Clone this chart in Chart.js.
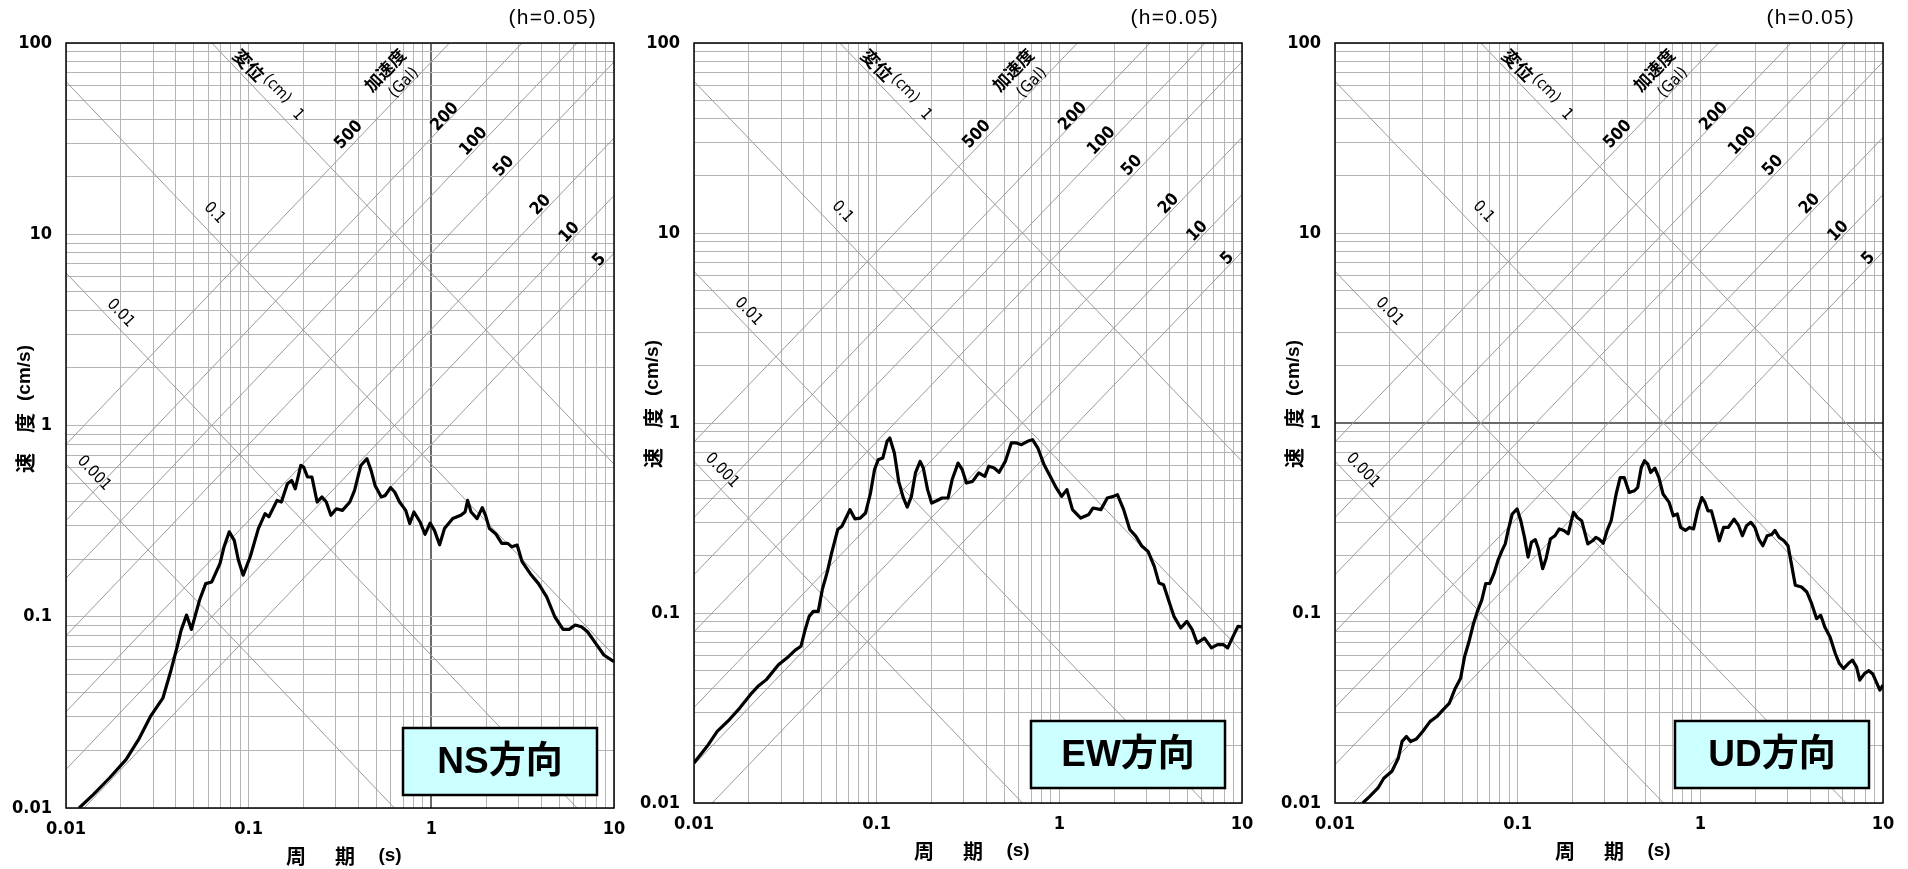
<!DOCTYPE html>
<html>
<head>
<meta charset="utf-8">
<script src="https://cdn.jsdelivr.net/npm/chart.js@4/dist/chart.umd.min.js"></script>
<style>
  html, body { margin: 0; padding: 0; background: #fff; }
  body { width: 1908px; height: 869px; position: relative; overflow: hidden; }
  canvas { position: absolute; top: 0; }
</style>
</head>
<body>
<canvas id="ns" width="630" height="869" style="left:0px"></canvas>
<canvas id="ew" width="630" height="869" style="left:628px"></canvas>
<canvas id="ud" width="630" height="869" style="left:1269px"></canvas>
<script>
// velocity response spectra (h=0.05), period in s, velocity in cm/s
const nsPeriod = [0.0118,0.0141,0.0173,0.0213,0.0249,0.0290,0.0339,0.0376,0.0406,0.0427,0.0457,0.0486,0.0538,0.0582,0.0628,0.0697,0.0733,0.0783,0.0834,0.0878,0.0933,0.102,0.113,0.123,0.129,0.143,0.151,0.163,0.172,0.180,0.193,0.200,0.210,0.222,0.237,0.252,0.266,0.282,0.302,0.326,0.358,0.380,0.411,0.444,0.468,0.492,0.532,0.560,0.598,0.630,0.670,0.724,0.762,0.803,0.868,0.923,0.986,1.04,1.11,1.18,1.31,1.45,1.53,1.58,1.65,1.78,1.90,1.98,2.08,2.25,2.43,2.62,2.76,2.95,3.14,3.48,3.86,4.28,4.74,5.26,5.68,6.13,6.63,7.16,7.94,8.80,10];
const nsVelocity = [0.0100,0.01175,0.01435,0.0179,0.0227,0.0301,0.0375,0.0527,0.0697,0.0851,0.102,0.0859,0.122,0.149,0.152,0.190,0.232,0.278,0.251,0.198,0.165,0.206,0.289,0.346,0.333,0.406,0.398,0.496,0.516,0.467,0.618,0.606,0.538,0.538,0.398,0.423,0.398,0.339,0.367,0.360,0.398,0.458,0.618,0.670,0.582,0.486,0.423,0.431,0.473,0.449,0.398,0.360,0.307,0.353,0.313,0.270,0.309,0.283,0.238,0.289,0.326,0.339,0.353,0.406,0.353,0.326,0.372,0.339,0.289,0.272,0.242,0.242,0.232,0.237,0.194,0.168,0.149,0.127,0.100,0.0859,0.0859,0.0905,0.0887,0.0835,0.0726,0.0631,0.0582];

const ewPeriod = [0.01,0.0118,0.0134,0.01563,0.0178,0.0207,0.0224,0.0249,0.0290,0.0330,0.0357,0.0385,0.0406,0.0427,0.0450,0.0479,0.0504,0.0538,0.0567,0.0612,0.0645,0.0679,0.0714,0.0760,0.0813,0.0869,0.0925,0.0973,0.102,0.108,0.114,0.118,0.125,0.132,0.140,0.147,0.155,0.163,0.173,0.180,0.190,0.200,0.213,0.228,0.246,0.259,0.279,0.294,0.310,0.335,0.362,0.391,0.411,0.440,0.468,0.506,0.546,0.583,0.621,0.670,0.713,0.763,0.824,0.891,0.962,1.03,1.10,1.18,1.31,1.45,1.53,1.69,1.83,1.98,2.08,2.25,2.43,2.62,2.83,3.06,3.31,3.51,3.72,3.96,4.24,4.62,4.99,5.34,5.68,6.23,6.80,7.35,7.93,8.35,9.03,9.51,10];
const ewVelocity = [0.01625,0.01987,0.0238,0.0275,0.0316,0.0379,0.0411,0.0446,0.0534,0.0591,0.0636,0.0668,0.0817,0.0960,0.102,0.102,0.133,0.166,0.207,0.275,0.286,0.316,0.350,0.313,0.316,0.336,0.428,0.568,0.641,0.654,0.801,0.834,0.695,0.493,0.403,0.361,0.411,0.546,0.628,0.580,0.446,0.379,0.390,0.403,0.403,0.504,0.615,0.568,0.483,0.493,0.546,0.524,0.592,0.580,0.550,0.628,0.785,0.785,0.769,0.801,0.817,0.738,0.604,0.524,0.455,0.411,0.446,0.350,0.316,0.330,0.357,0.350,0.403,0.411,0.420,0.350,0.275,0.254,0.225,0.211,0.176,0.144,0.141,0.117,0.0960,0.0834,0.0904,0.0817,0.0695,0.0738,0.0655,0.0681,0.0681,0.0655,0.0769,0.0851,0.0844];

const udPeriod = [0.0142,0.0155,0.0172,0.0185,0.0205,0.0222,0.0233,0.0246,0.0259,0.0279,0.0302,0.0331,0.0361,0.0390,0.0422,0.0455,0.0487,0.0512,0.0544,0.0573,0.0604,0.0636,0.0669,0.0704,0.0741,0.0780,0.0821,0.0855,0.0887,0.0934,0.0993,0.104,0.109,0.114,0.119,0.125,0.130,0.137,0.143,0.151,0.160,0.169,0.179,0.189,0.202,0.212,0.224,0.242,0.257,0.268,0.279,0.294,0.309,0.325,0.346,0.364,0.383,0.408,0.436,0.454,0.475,0.495,0.516,0.535,0.564,0.593,0.625,0.675,0.711,0.748,0.780,0.829,0.872,0.918,0.966,1.02,1.06,1.10,1.15,1.21,1.27,1.34,1.42,1.53,1.62,1.70,1.79,1.89,1.99,2.09,2.20,2.32,2.46,2.56,2.70,2.87,3.02,3.15,3.31,3.58,3.83,4.07,4.33,4.56,4.80,5.13,5.48,5.77,6.08,6.46,6.80,7.16,7.46,7.94,8.36,8.80,9.26,9.61,10];
const udVelocity = [0.0100,0.01084,0.0120,0.0135,0.0147,0.0172,0.0211,0.0224,0.0211,0.0217,0.0238,0.0268,0.0285,0.0309,0.0334,0.0401,0.0453,0.0588,0.0719,0.0879,0.103,0.117,0.143,0.143,0.161,0.189,0.213,0.231,0.272,0.332,0.353,0.306,0.250,0.197,0.236,0.243,0.217,0.171,0.193,0.245,0.255,0.277,0.272,0.261,0.339,0.318,0.306,0.231,0.240,0.250,0.245,0.233,0.272,0.306,0.423,0.516,0.516,0.431,0.440,0.458,0.583,0.633,0.607,0.549,0.578,0.516,0.423,0.382,0.325,0.332,0.282,0.272,0.282,0.277,0.345,0.405,0.382,0.345,0.345,0.288,0.240,0.282,0.282,0.312,0.288,0.255,0.288,0.300,0.282,0.245,0.226,0.255,0.259,0.272,0.250,0.240,0.226,0.182,0.140,0.137,0.129,0.112,0.0934,0.0972,0.0845,0.0748,0.0612,0.0542,0.0510,0.0542,0.0565,0.0521,0.0444,0.0481,0.0497,0.0477,0.0426,0.0393,0.0418];

// axes
const xTickValues = [0.01,0.02,0.03,0.04,0.05,0.06,0.07,0.08,0.09,0.1,0.2,0.3,0.4,0.5,0.6,0.7,0.8,0.9,1,2,3,4,5,6,7,8,9,10];
const yTickValues = [0.01,0.02,0.03,0.04,0.05,0.06,0.07,0.08,0.09,0.1,0.2,0.3,0.4,0.5,0.6,0.7,0.8,0.9,1,2,3,4,5,6,7,8,9,10,20,30,40,50,60,70,80,90,100];
const xTickLabels = ['0.01', '0.1', '1', '10'];
const yTickLabels = ['0.01', '0.1', '1', '10', '100'];

// tripartite guide lines: displacement (cm) and acceleration (Gal)
const dispLevels = [0.001, 0.01, 0.1, 1];
const dispLabels = ['0.001', '0.01', '0.1', '1'];
const accLevels = [5, 10, 20, 50, 100, 200, 500];
const accLabels = ['5', '10', '20', '50', '100', '200', '500'];

// where the guide labels sit, as (period, velocity)
const dispLabelAt = [[0.01422, 0.562], [0.01987, 3.86], [0.0649, 12.9], [0.186, 42.0]];
const accLabelAt = [[8.32, 7.33], [5.71, 10.2], [3.98, 14.2], [2.50, 22.6], [1.706, 30.5], [1.188, 41.0], [0.354, 33.0]];

const TWO_PI = 2 * Math.PI;
const narrow = '"Liberation Sans Narrow","DejaVu Sans Condensed","Liberation Sans",sans-serif';
const jp = '"Liberation Sans","Noto Sans CJK JP",sans-serif';
const jpBold = '"Noto Sans CJK JP","Liberation Sans",sans-serif';

function labelFor(v, labels) {
  const hit = labels.find(l => Math.abs(Math.log10(+l) - Math.log10(v)) < 1e-6);
  return hit || '';
}

/**
 * Draws frame, guide labels, axis titles, h label and the direction box
 */
const overlay = {
  id: 'overlay',
  afterDatasetsDraw(chart, args, o) {
    const {ctx, chartArea: a, scales: {x, y}} = chart;
    ctx.save();
    ctx.strokeStyle = '#000';
    ctx.lineWidth = 1.5;
    ctx.strokeRect(a.left, a.top, a.right - a.left, a.bottom - a.top);

    const ang = Math.atan2(y.getPixelForValue(1) - y.getPixelForValue(10), x.getPixelForValue(10) - x.getPixelForValue(1));
    ctx.fillStyle = '#000';
    ctx.textAlign = 'center';
    ctx.textBaseline = 'middle';
    const put = (text, t, v, rot, font) => {
      ctx.save();
      ctx.translate(x.getPixelForValue(t), y.getPixelForValue(v));
      ctx.rotate(rot);
      ctx.font = font;
      ctx.fillText(text, 0, 0);
      ctx.restore();
    };
    dispLabels.forEach((s, i) => put(s, dispLabelAt[i][0], dispLabelAt[i][1], ang, '16px ' + narrow));
    accLabels.forEach((s, i) => put(s, accLabelAt[i][0], accLabelAt[i][1], -ang, 'bold 17px ' + narrow));
    put('変位', 0.1004, 76.7, ang, 'bold 18px ' + jpBold);
    put('(cm)', 0.1430, 57.5, ang, '16px ' + narrow);
    put('加速度', 0.5576, 72.2, -ang, 'bold 17px ' + jpBold);
    put('(Gal)', 0.7085, 61.8, -ang, '16px ' + narrow);

    // damping note
    ctx.textAlign = 'right';
    ctx.font = '21px "Liberation Sans","Noto Sans CJK JP",sans-serif';
    ctx.letterSpacing = '1.2px';
    ctx.fillText('(h=0.05)', a.right - o.hRight, 18);
    ctx.letterSpacing = '0px';

    // axis titles
    ctx.textAlign = 'center';
    ctx.font = 'bold 20px ' + jpBold;
    const ty = a.bottom + 48;
    ctx.fillText('周', a.left + 230, ty);
    ctx.fillText('期', a.left + 279, ty);
    ctx.font = 'bold 19px ' + jp;
    ctx.fillText('(s)', a.left + 324, ty);

    ctx.save();
    ctx.translate(a.left - 41, a.bottom);
    ctx.rotate(-Math.PI / 2);
    ctx.font = 'bold 20px ' + jpBold;
    ctx.fillText('速', 345, 0);
    ctx.fillText('度', 385, 0);
    ctx.font = 'bold 19px ' + jp;
    ctx.fillText('(cm/s)', 435, 0);
    ctx.restore();

    // direction box
    const bx = a.left + o.boxLeft, by = a.bottom - o.boxUp, bw = 194, bh = 67;
    ctx.fillStyle = '#ccffff';
    ctx.fillRect(bx, by, bw, bh);
    ctx.lineWidth = 2.5;
    ctx.strokeRect(bx, by, bw, bh);
    ctx.fillStyle = '#000';
    ctx.font = 'bold 37px ' + jp;
    ctx.fillText(o.label, bx + bw / 2, by + bh / 2 + 1);
    ctx.restore();
  }
};

function guideSets() {
  const sets = [];
  const guide = pts => ({data: pts, borderColor: '#9a9a9a', borderWidth: 1, pointRadius: 0, tension: 0, fill: false});
  dispLevels.forEach(d => sets.push(guide([{x: 0.01, y: TWO_PI * d / 0.01}, {x: 10, y: TWO_PI * d / 10}])));
  accLevels.forEach(g => sets.push(guide([{x: 0.01, y: g * 0.01 / TWO_PI}, {x: 10, y: g * 10 / TWO_PI}])));
  return sets;
}

/**
 * @param {string} id canvas id
 * @param {Array} period periods (s)
 * @param {Array} velocity velocities (cm/s)
 * @param {object} o layout of the panel
 */
function spectrumChart(id, period, velocity, o) {
  const tickFont = {family: narrow, size: 18, weight: 'bold'};
  const gridColor = dark => c => (dark && c.tick && Math.abs(c.tick.value - 1) < 1e-9) ? '#6a6a6a' : '#b4b4b4';
  const gridWidth = dark => c => (dark && c.tick && Math.abs(c.tick.value - 1) < 1e-9) ? 2 : 1;
  return new Chart(document.getElementById(id), {
    type: 'line',
    data: {
      datasets: [
        {
          data: period.map((t, i) => ({x: t, y: velocity[i]})),
          borderColor: '#000',
          borderWidth: 3.2,
          pointRadius: 0,
          tension: 0,
          fill: false,
          borderJoinStyle: 'round'
        },
        ...guideSets()
      ]
    },
    options: {
      responsive: false,
      animation: false,
      devicePixelRatio: 1,
      layout: {padding: {left: 0, right: 16, top: 43, bottom: 869 - o.bottom - 40}},
      plugins: {legend: {display: false}, tooltip: {enabled: false}, overlay: o},
      scales: {
        x: {
          type: 'logarithmic', min: 0.01, max: 10,
          afterBuildTicks: s => { s.ticks = xTickValues.map(v => ({value: v})); },
          afterFit: s => { s.height = 40; s.paddingLeft = 0; s.paddingRight = 0; },
          ticks: {autoSkip: false, maxRotation: 0, minRotation: 0, padding: 11, color: '#000', font: tickFont,
                  callback: v => labelFor(v, xTickLabels)},
          grid: {color: gridColor(o.darkX), lineWidth: gridWidth(o.darkX), drawTicks: false},
          border: {display: false}
        },
        y: {
          type: 'logarithmic', min: 0.01, max: 100,
          afterBuildTicks: s => { s.ticks = yTickValues.map(v => ({value: v})); },
          afterFit: s => { s.width = 66; s.paddingTop = 0; s.paddingBottom = 0; },
          ticks: {autoSkip: false, padding: 14, color: '#000', font: tickFont,
                  callback: v => labelFor(v, yTickLabels)},
          grid: {color: gridColor(o.darkY), lineWidth: gridWidth(o.darkY), drawTicks: false},
          border: {display: false}
        }
      }
    },
    plugins: [overlay]
  });
}

spectrumChart('ns', nsPeriod, nsVelocity, {bottom: 808, label: 'NS方向', boxLeft: 337, boxUp: 80, hRight: 17, darkX: true, darkY: false});
spectrumChart('ew', ewPeriod, ewVelocity, {bottom: 803, label: 'EW方向', boxLeft: 337, boxUp: 82, hRight: 23, darkX: false, darkY: false});
spectrumChart('ud', udPeriod, udVelocity, {bottom: 803, label: 'UD方向', boxLeft: 340, boxUp: 82, hRight: 28, darkX: false, darkY: true});
</script>
</body>
</html>
